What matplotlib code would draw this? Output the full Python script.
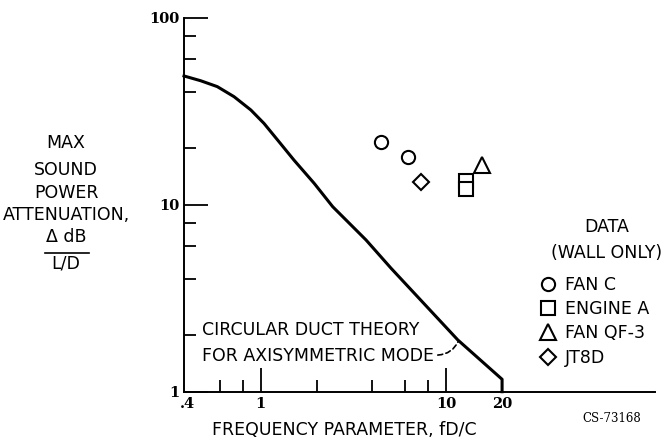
import matplotlib
matplotlib.use("Agg")
import matplotlib.pyplot as plt
from matplotlib.lines import Line2D

plt.rcParams['font.family'] = ['DejaVu Sans']

# theory curve, circular duct, axisymmetric mode
curve_x = [0.385, 0.474, 0.582, 0.717, 0.883, 1.04, 1.23, 1.51, 1.94, 2.44,
           3.69, 5.04, 11.55, 20.0, 20.0]
curve_y = [48.8, 46.0, 42.8, 37.8, 32.1, 27.2, 22.2, 17.3, 13.0, 9.76,
           6.48, 4.57, 1.89, 1.165, 1.0]

# measured data (wall only)
fan_c_x = [4.45, 6.20]
fan_c_y = [21.7, 17.9]
engine_a_x = [12.8, 12.8]
engine_a_y = [13.4, 12.1]
fan_qf3_x = [15.5]
fan_qf3_y = [16.3]
jt8d_x = [7.33]
jt8d_y = [13.2]

x_major = [0.4, 1, 10, 20]
x_major_labels = ['.4', '1', '10', '20']
x_minor = [0.6, 0.8, 2, 4, 6, 8]
y_major = [1, 10, 100]
y_major_labels = ['1', '10', '100']
y_minor = [2, 4, 6, 8, 20, 40, 60, 80]

W, H = 666, 447
fig = plt.figure(figsize=(W / 100, H / 100), dpi=100)
ax = fig.add_axes([184 / W, 1 - 391.7 / H, 471 / W, 374 / H])
ax.set_xscale('log')
ax.set_yscale('log')
ax.set_xlim(0.385, 133.6)
ax.set_ylim(1, 100)

ax.plot(curve_x, curve_y, color='k', lw=2.2, solid_joinstyle='round', clip_on=False)

mk = dict(linestyle='none', color='k', mfc='white', mew=1.5, clip_on=False)
ax.plot(fan_c_x, fan_c_y, marker='o', ms=9.5, label='FAN C', **mk)
ax.plot(engine_a_x, engine_a_y, marker='s', ms=9.5, label='ENGINE A', **mk)
ax.plot(fan_qf3_x, fan_qf3_y, marker='^', ms=11, label='FAN QF-3', **mk)
ax.plot(jt8d_x, jt8d_y, marker='D', ms=8, label='JT8D', **mk)

for s in ['top', 'right']:
    ax.spines[s].set_visible(False)
for s in ['left', 'bottom']:
    ax.spines[s].set_linewidth(1.4)

ax.set_xticks(x_major)
ax.set_xticklabels(x_major_labels)
ax.set_xticks(x_minor, minor=True)
ax.set_xticklabels([], minor=True)
ax.set_yticks(y_major)
ax.set_yticklabels(y_major_labels)
ax.set_yticks(y_minor, minor=True)
ax.set_yticklabels([], minor=True)
ax.tick_params(which='major', direction='in', length=17, width=1.3, pad=4)
ax.tick_params(which='minor', direction='in', length=8.5, width=1.3)
ax.tick_params(axis='y', which='major', pad=3)
for t in ax.get_xticklabels() + ax.get_yticklabels():
    t.set_fontfamily('DejaVu Serif')
    t.set_fontweight('bold')
    t.set_fontsize(10.5)
xt = ax.xaxis.get_major_ticks()
xt[0].tick1line.set_visible(False)
xt[-1].tick1line.set_visible(False)

fs = 12.5
ax.set_xlabel('FREQUENCY PARAMETER, fD/C', fontsize=fs)
ax.xaxis.set_label_coords(0.34, -0.078)

# y label block
ylab = ['MAX', 'SOUND', 'POWER', 'ATTENUATION,', 'Δ dB']
ylab_y = [143.5, 170, 193, 215, 236.5]
for txt, yy in zip(ylab, ylab_y):
    fig.text(66 / W, 1 - yy / H, txt, ha='center', va='center', fontsize=fs)
fig.add_artist(Line2D([45 / W, 89 / W], [1 - 252.7 / H] * 2, color='k', lw=1.2))
fig.text(66 / W, 1 - 263.5 / H, 'L/D', ha='center', va='center', fontsize=fs)

# theory label with dashed leader
ax.text(0.48, 2.14, 'CIRCULAR DUCT THEORY', ha='left', va='center', fontsize=fs)
ax.text(0.48, 1.55, 'FOR AXISYMMETRIC MODE', ha='left', va='center', fontsize=fs)
ax.annotate('', xy=(11.65, 1.87), xytext=(9.0, 1.57),
            arrowprops=dict(arrowstyle='-', color='k', lw=1.2, linestyle=(0, (3, 2)),
                            connectionstyle='arc3,rad=0.3', shrinkA=0, shrinkB=0))

# legend
fig.text(607 / W, 1 - 227.5 / H, 'DATA', ha='center', va='center', fontsize=fs)
fig.text(607 / W, 1 - 253.5 / H, '(WALL ONLY)', ha='center', va='center', fontsize=fs)
leg = ax.legend(loc='upper left', bbox_to_anchor=(539 / W, 1 - 276 / H),
                bbox_transform=fig.transFigure, frameon=False, fontsize=fs,
                borderpad=0, borderaxespad=0, handlelength=1.0, handletextpad=0.5,
                labelspacing=0.36, markerscale=1.0)

fig.text(611.7 / W, 1 - 418 / H, 'CS-73168', ha='center', va='center',
         fontsize=8.5, family='DejaVu Serif')

fig.savefig('out.png', dpi=100)
